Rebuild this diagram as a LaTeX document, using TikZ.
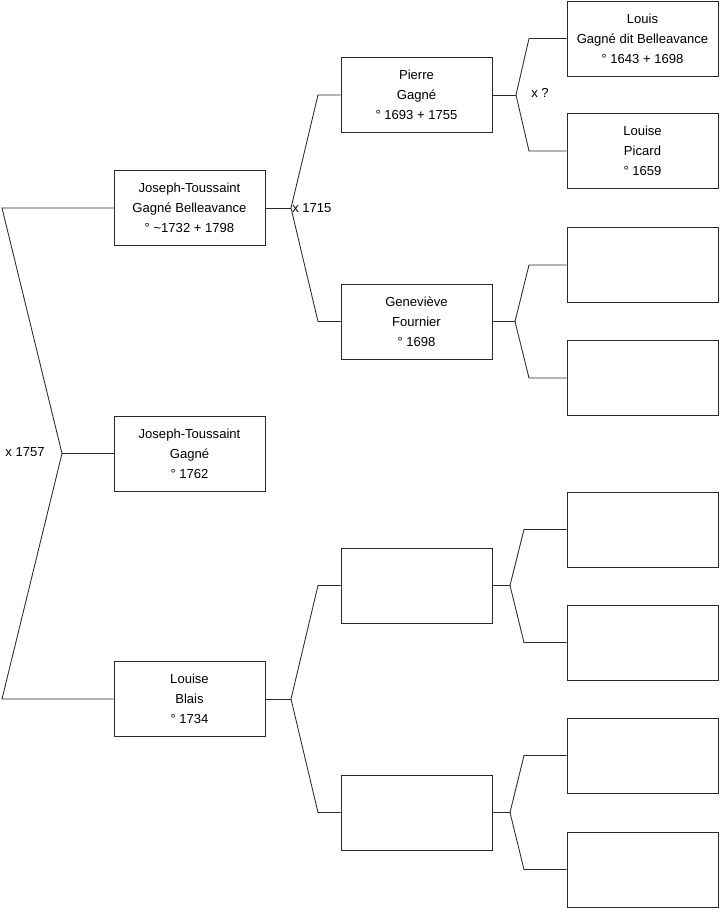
\documentclass[tikz,border=0pt]{standalone}
\usepackage{fontspec}
\setmainfont{Liberation Sans}
\definecolor{traitgris}{HTML}{2B2B2B}
\tikzset{
  personne/.style={draw=traitgris, line width=0.65pt, fill=white, minimum width=113.25pt, minimum height=56.25pt, inner sep=0pt, align=center, font=\fontsize{9.8}{15}\selectfont},
  lien/.style={draw=traitgris, line width=0.65pt},
  mariage/.style={font=\fontsize{9.8}{11}\selectfont, inner sep=0pt}
}

\begin{document}
\begin{tikzpicture}[x=0.75pt, y=-0.75pt]
  \useasboundingbox (0,0) rectangle (719,908);

  % Generation 0 et 1
  \node[personne] (racine) at (189.5,453.5) {Joseph-Toussaint\\Gagné\\° 1762};
  \node[personne] (pere) at (189.5,208) {Joseph-Toussaint\\Gagné Belleavance\\° \textasciitilde 1732 + 1798};
  \node[personne] (mere) at (189.5,699) {Louise\\Blais\\° 1734};

  % Generation 2
  \node[personne] (gpp) at (416.5,95) {Pierre\\Gagné\\° 1693 + 1755};
  \node[personne] (gmp) at (416.5,321.5) {Geneviève\\Fournier\\° 1698};
  \node[personne] (gpm) at (416.5,585.5) {};
  \node[personne] (gmm) at (416.5,812.5) {};

  % Generation 3
  \node[personne] (agpp) at (642.5,38.5) {Louis\\Gagné dit Belleavance\\° 1643 + 1698};
  \node[personne] (agmp) at (642.5,151) {Louise\\Picard\\° 1659};
  \node[personne] (agpm) at (642.5,265) {};
  \node[personne] (agmm) at (642.5,378) {};
  \node[personne] (agpmp) at (642.5,529.5) {};
  \node[personne] (agmmp) at (642.5,642.5) {};
  \node[personne] (agpmm) at (642.5,755.5) {};
  \node[personne] (agmmm) at (642.5,869.5) {};

  % Jonctions
  \coordinate (j0) at (62,453.5);
  \coordinate (col0) at (2,0);
  \coordinate (jp) at (291,208);
  \coordinate (jm) at (291,699);
  \coordinate (col1) at (318,0);
  \coordinate (jgpp) at (516,95);
  \coordinate (jgmp) at (515,321.5);
  \coordinate (jgpm) at (510,585.5);
  \coordinate (jgmm) at (510,812.5);
  \coordinate (col2a) at (529,0);
  \coordinate (col2b) at (524,0);

  % Liens generation 0 - 1
  \draw[lien] (pere.west) -- (pere.west -| col0) -- (j0) -- (mere.west -| col0) -- (mere.west);
  \draw[lien] (j0) -- (racine.west);
  \node[mariage] at (25,452) {x 1757};

  % Liens generation 1 - 2
  \draw[lien] (pere.east) -- (jp);
  \draw[lien] (gpp.west) -- (gpp.west -| col1) -- (jp) -- (gmp.west -| col1) -- (gmp.west);
  \node[mariage, right] at (292,208) {x 1715};
  \draw[lien] (mere.east) -- (jm);
  \draw[lien] (gpm.west) -- (gpm.west -| col1) -- (jm) -- (gmm.west -| col1) -- (gmm.west);

  % Liens generation 2 - 3
  \draw[lien] (gpp.east) -- (jgpp);
  \draw[lien] (agpp.west) -- (agpp.west -| col2a) -- (jgpp) -- (agmp.west -| col2a) -- (agmp.west);
  \node[mariage] at (540,93) {x ?};
  \draw[lien] (gmp.east) -- (jgmp);
  \draw[lien] (agpm.west) -- (agpm.west -| col2a) -- (jgmp) -- (agmm.west -| col2a) -- (agmm.west);
  \draw[lien] (gpm.east) -- (jgpm);
  \draw[lien] (agpmp.west) -- (agpmp.west -| col2b) -- (jgpm) -- (agmmp.west -| col2b) -- (agmmp.west);
  \draw[lien] (gmm.east) -- (jgmm);
  \draw[lien] (agpmm.west) -- (agpmm.west -| col2b) -- (jgmm) -- (agmmm.west -| col2b) -- (agmmm.west);
\end{tikzpicture}
\end{document}
